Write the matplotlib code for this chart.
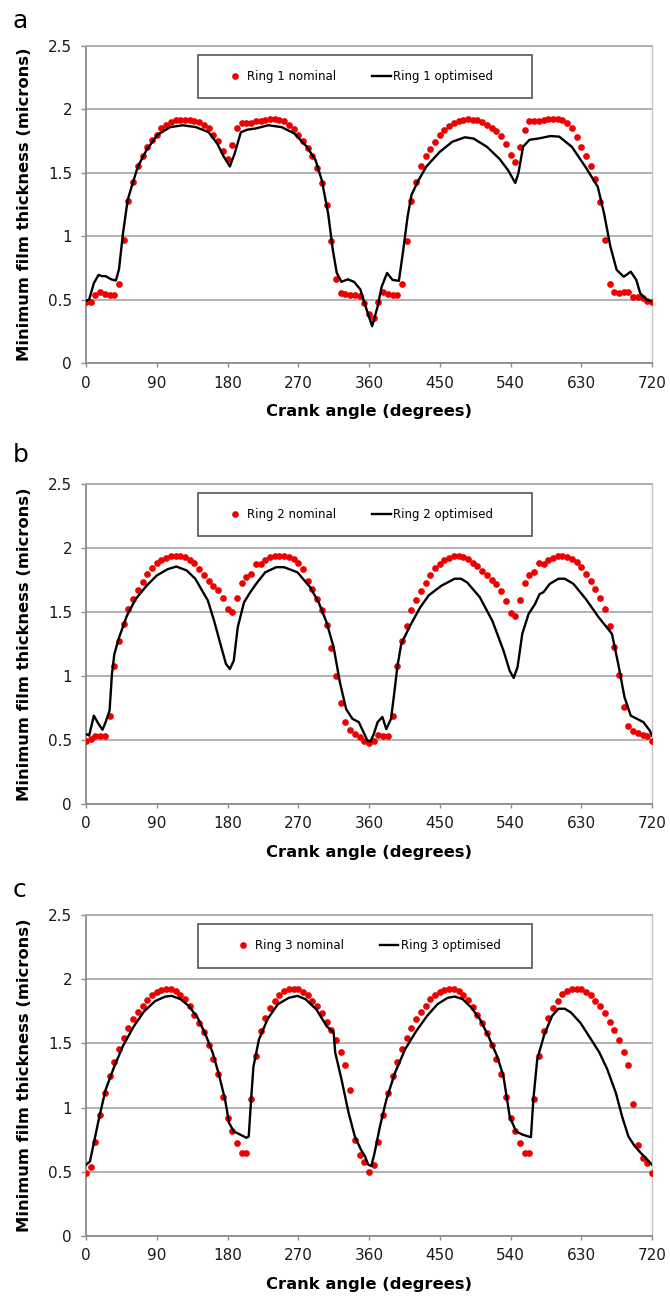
import numpy as np
import matplotlib
matplotlib.use('Agg')
import matplotlib.pyplot as plt
from matplotlib.patches import Rectangle

W, H = 670, 1297

# nominal film thickness is sampled on a regular 6 degree crank grid
crank_nominal = np.arange(0, 721, 6)

ring1_nominal = [
    0.48, 0.48, 0.54, 0.556, 0.546, 0.54, 0.535, 0.62, 0.97, 1.28,
    1.43, 1.55, 1.63, 1.70, 1.76, 1.80, 1.85, 1.88, 1.90, 1.915,
    1.92, 1.92, 1.92, 1.91, 1.90, 1.875, 1.85, 1.80, 1.75, 1.67,
    1.61, 1.72, 1.85, 1.89, 1.89, 1.895, 1.905, 1.91, 1.92, 1.925,
    1.925, 1.92, 1.905, 1.88, 1.845, 1.80, 1.75, 1.695, 1.63, 1.535,
    1.42, 1.25, 0.965, 0.665, 0.55, 0.543, 0.54, 0.535, 0.525, 0.477,
    0.39, 0.355, 0.48, 0.556, 0.546, 0.535, 0.535, 0.62, 0.965, 1.28,
    1.43, 1.55, 1.63, 1.69, 1.745, 1.80, 1.835, 1.87, 1.895, 1.91,
    1.92, 1.923, 1.92, 1.915, 1.90, 1.88, 1.855, 1.83, 1.79, 1.725,
    1.64, 1.585, 1.705, 1.835, 1.905, 1.905, 1.91, 1.918, 1.925, 1.928,
    1.925, 1.915, 1.895, 1.85, 1.785, 1.705, 1.63, 1.55, 1.45, 1.27,
    0.97, 0.625, 0.556, 0.55, 0.56, 0.556, 0.52, 0.52, 0.51, 0.49,
    0.48,
]
ring1_opt_angle = [
    0, 4, 10, 16, 20, 25, 32, 38, 42, 47, 53, 58, 66, 77, 91, 107, 123,
    140, 156, 167, 175, 183, 189, 197, 205, 216, 232, 249, 265, 281, 292,
    300, 308, 314, 319, 325, 333, 341, 349, 357, 364, 371, 376, 383, 390,
    398, 403, 409, 414, 422, 433, 450, 466, 482, 493, 510, 526, 537, 546,
    550, 556, 564, 575, 591, 602, 618, 635, 651, 659, 667, 675, 684, 693,
    700, 705, 713, 720,
]
ring1_opt = [
    0.49, 0.50, 0.63, 0.695, 0.685, 0.685, 0.66, 0.65, 0.74, 1.02, 1.285,
    1.39, 1.55, 1.68, 1.80, 1.86, 1.875, 1.86, 1.82, 1.73, 1.63, 1.55,
    1.65, 1.82, 1.84, 1.85, 1.875, 1.86, 1.81, 1.705, 1.60, 1.44, 1.18,
    0.89, 0.71, 0.64, 0.66, 0.64, 0.58, 0.42, 0.29, 0.446, 0.60, 0.71,
    0.655, 0.648, 0.865, 1.15, 1.325, 1.43, 1.55, 1.665, 1.745, 1.78,
    1.77, 1.705, 1.61, 1.52, 1.42, 1.495, 1.705, 1.76, 1.77, 1.79, 1.785,
    1.705, 1.55, 1.39, 1.18, 0.92, 0.735, 0.68, 0.72, 0.655, 0.55, 0.50,
    0.485,
]

ring2_nominal = [
    0.495, 0.51, 0.535, 0.535, 0.535, 0.69, 1.08, 1.27, 1.405, 1.52,
    1.60, 1.675, 1.735, 1.80, 1.84, 1.88, 1.905, 1.925, 1.94, 1.94,
    1.94, 1.93, 1.905, 1.88, 1.835, 1.79, 1.745, 1.705, 1.67, 1.61,
    1.52, 1.50, 1.61, 1.73, 1.775, 1.80, 1.875, 1.875, 1.905, 1.93,
    1.94, 1.94, 1.94, 1.93, 1.915, 1.88, 1.835, 1.745, 1.68, 1.605,
    1.515, 1.40, 1.215, 1.00, 0.79, 0.64, 0.58, 0.545, 0.52, 0.49,
    0.475, 0.495, 0.54, 0.535, 0.535, 0.69, 1.08, 1.275, 1.39, 1.515,
    1.595, 1.665, 1.73, 1.79, 1.84, 1.875, 1.905, 1.925, 1.94, 1.94,
    1.93, 1.915, 1.885, 1.86, 1.82, 1.79, 1.75, 1.715, 1.665, 1.585,
    1.49, 1.47, 1.59, 1.725, 1.79, 1.815, 1.88, 1.875, 1.905, 1.925,
    1.94, 1.94, 1.93, 1.915, 1.89, 1.85, 1.80, 1.74, 1.68, 1.61,
    1.525, 1.39, 1.225, 1.01, 0.755, 0.61, 0.57, 0.555, 0.54, 0.535,
    0.49,
]
ring2_opt_angle = [
    0, 4, 10, 16, 21, 25, 30, 33, 36, 42, 52, 63, 77, 90, 104, 115, 128,
    139, 155, 163, 171, 178, 183, 188, 193, 201, 209, 217, 228, 242, 252,
    269, 285, 296, 306, 315, 323, 331, 339, 347, 352, 358, 362, 366, 371,
    377, 382, 388, 392, 396, 401, 412, 425, 436, 452, 469, 477, 485, 501,
    517, 531, 539, 544, 549, 555, 563, 571, 577, 582, 590, 601, 609, 620,
    636, 652, 669, 677, 685, 693, 701, 709, 717, 720,
]
ring2_opt = [
    0.547, 0.535, 0.69, 0.625, 0.58, 0.64, 0.73, 1.015, 1.17, 1.30, 1.47,
    1.60, 1.705, 1.785, 1.835, 1.855, 1.825, 1.76, 1.59, 1.43, 1.25,
    1.095, 1.055, 1.12, 1.38, 1.575, 1.655, 1.725, 1.81, 1.85, 1.85,
    1.81, 1.695, 1.575, 1.42, 1.225, 0.95, 0.74, 0.665, 0.64, 0.575,
    0.495, 0.49, 0.545, 0.64, 0.68, 0.585, 0.665, 0.86, 1.07, 1.25,
    1.39, 1.535, 1.63, 1.705, 1.76, 1.76, 1.73, 1.615, 1.43, 1.20, 1.04,
    0.985, 1.07, 1.33, 1.485, 1.56, 1.64, 1.655, 1.72, 1.76, 1.76, 1.72,
    1.60, 1.46, 1.33, 1.095, 0.835, 0.69, 0.665, 0.64, 0.575, 0.535,
]

ring3_nominal = [
    0.49, 0.54, 0.73, 0.94, 1.115, 1.245, 1.355, 1.46, 1.545, 1.62,
    1.69, 1.745, 1.795, 1.84, 1.875, 1.90, 1.915, 1.92, 1.92, 1.91,
    1.875, 1.845, 1.79, 1.725, 1.66, 1.585, 1.49, 1.38, 1.26, 1.085,
    0.92, 0.815, 0.725, 0.65, 0.65, 1.07, 1.40, 1.595, 1.70, 1.775,
    1.83, 1.875, 1.905, 1.92, 1.92, 1.92, 1.90, 1.875, 1.83, 1.79,
    1.735, 1.665, 1.605, 1.525, 1.43, 1.335, 1.14, 0.75, 0.63, 0.58,
    0.50, 0.555, 0.73, 0.94, 1.115, 1.245, 1.355, 1.455, 1.545, 1.62,
    1.69, 1.745, 1.795, 1.845, 1.875, 1.90, 1.915, 1.92, 1.92, 1.91,
    1.875, 1.84, 1.78, 1.72, 1.655, 1.58, 1.49, 1.38, 1.26, 1.085,
    0.92, 0.815, 0.725, 0.65, 0.65, 1.07, 1.40, 1.595, 1.70, 1.775,
    1.83, 1.885, 1.91, 1.92, 1.92, 1.92, 1.90, 1.875, 1.83, 1.79,
    1.735, 1.665, 1.605, 1.525, 1.43, 1.335, 1.025, 0.71, 0.61, 0.57,
    0.49,
]
ring3_opt_angle = [
    0, 5, 10, 17, 25, 36, 47, 61, 74, 88, 101, 109, 120, 131, 142, 152,
    161, 169, 177, 182, 188, 196, 204, 207, 210, 213, 220, 231, 244, 258,
    269, 279, 293, 306, 315, 317, 325, 334, 342, 350, 355, 359, 363, 367,
    374, 382, 393, 406, 420, 434, 447, 460, 469, 479, 490, 501, 512, 523,
    531, 539, 547, 555, 563, 566, 569, 574, 583, 593, 601, 609, 617, 629,
    640, 653, 663, 674, 682, 690, 698, 706, 714, 720,
]
ring3_opt = [
    0.555, 0.58, 0.725, 0.93, 1.14, 1.32, 1.48, 1.635, 1.75, 1.83, 1.865,
    1.87, 1.845, 1.79, 1.70, 1.57, 1.43, 1.26, 1.06, 0.88, 0.815, 0.79,
    0.765, 0.775, 1.06, 1.32, 1.53, 1.69, 1.805, 1.855, 1.87, 1.845,
    1.765, 1.635, 1.585, 1.43, 1.22, 0.96, 0.775, 0.67, 0.62, 0.555,
    0.545, 0.645, 0.855, 1.06, 1.27, 1.455, 1.595, 1.715, 1.805, 1.855,
    1.865, 1.845, 1.78, 1.69, 1.555, 1.40, 1.245, 0.93, 0.815, 0.79,
    0.775, 0.77, 1.06, 1.375, 1.57, 1.715, 1.77, 1.77, 1.74, 1.66, 1.555,
    1.43, 1.30, 1.115, 0.93, 0.775, 0.70, 0.645, 0.595, 0.555,
]

panels = [
    ('a', 'Ring 1', ring1_nominal, ring1_opt_angle, ring1_opt),
    ('b', 'Ring 2', ring2_nominal, ring2_opt_angle, ring2_opt),
    ('c', 'Ring 3', ring3_nominal, ring3_opt_angle, ring3_opt),
]
x_ticks = [0, 90, 180, 270, 360, 450, 540, 630, 720]
y_ticks = [0, 0.5, 1, 1.5, 2, 2.5]
y_tick_labels = ['0', '0.5', '1', '1.5', '2', '2.5']

# plot areas in pixels: left, top, right, bottom
boxes = [(86, 46, 652, 363), (86, 484, 652, 804), (86, 915, 652, 1236)]
letter_base = [28, 462, 897]
legend_cx = [0.483, 0.483, 0.497]

fig = plt.figure(figsize=(W / 100, H / 100), dpi=100)
fig.patch.set_facecolor('white')

for (letter, ring, nominal, opt_x, opt_y), (l, t, r, b), lb, lcx in zip(
        panels, boxes, letter_base, legend_cx):
    ax = fig.add_axes([l / W, 1 - b / H, (r - l) / W, (b - t) / H])
    ax.set_axisbelow(True)
    ax.yaxis.grid(True, color='#ababab', lw=1.3)

    nom, = ax.plot(crank_nominal, nominal, 'o', color='#ee0000', ms=3.8,
                   mec='#ee0000', label=f'{ring} nominal', zorder=3)
    opt, = ax.plot(opt_x, opt_y, '-', color='black', lw=1.7,
                   label=f'{ring} optimised', zorder=4)

    ax.set_xlim(0, 720)
    ax.set_ylim(0, 2.5)
    ax.set_xticks(x_ticks)
    ax.set_yticks(y_ticks)
    ax.set_yticklabels(y_tick_labels)
    ax.tick_params(axis='x', length=3, width=1, color='#8c8c8c', pad=6,
                   labelsize=11, labelcolor='#1a1a1a')
    ax.tick_params(axis='y', length=3.5, width=1, color='#8c8c8c', pad=6.5,
                   labelsize=11, labelcolor='#1a1a1a')

    for side in ('left', 'bottom'):
        ax.spines[side].set_color('#8c8c8c')
        ax.spines[side].set_linewidth(1.3)
    ax.spines['top'].set_color('#ababab')
    ax.spines['top'].set_linewidth(1.3)
    ax.spines['right'].set_color('#c4c4c4')
    ax.spines['right'].set_linewidth(1.0)

    ax.set_xlabel('Crank angle (degrees)', fontsize=11.8, fontweight='bold')
    ax.set_ylabel('Minimum film thickness (microns)', fontsize=11.8,
                  fontweight='bold')
    ax.xaxis.set_label_coords(0.5, -41 / (b - t))
    ax.yaxis.set_label_coords(-54 / (r - l), 0.5)

    ax.add_patch(Rectangle((0.198, 0.836), 0.59, 0.136,
                           transform=ax.transAxes, facecolor='white',
                           edgecolor='#555555', lw=1.2, zorder=5))
    leg = ax.legend(handles=[nom, opt], loc='center',
                    bbox_to_anchor=(lcx, 0.904), ncol=2, frameon=False,
                    fontsize=8.5, numpoints=1, handlelength=1.6,
                    handletextpad=0.25, columnspacing=3.0)
    leg.set_zorder(6)

    fig.text(13 / W, 1 - lb / H, letter, fontsize=18, ha='left',
             va='baseline')

fig.savefig('out.png', dpi=100)
